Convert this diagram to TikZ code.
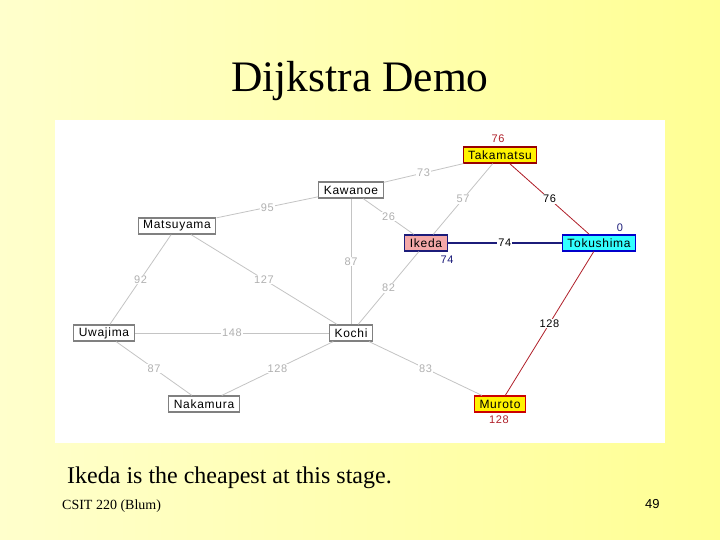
\documentclass[tikz,border=0pt]{standalone}
\usepackage{fontspec}
\setmainfont{Liberation Serif}
\newfontfamily\guifont[LetterSpace=6]{Liberation Sans}
\newfontfamily\pagefont{Liberation Sans}
\definecolor{slideleft}{HTML}{FFFFCC}
\definecolor{slideright}{HTML}{FFFF94}
\definecolor{wire}{HTML}{C4C4C4}
\definecolor{wiretext}{HTML}{B0B0B0}
\definecolor{pathred}{HTML}{B0202A}
\definecolor{pathblue}{HTML}{1C1C7A}
\definecolor{ikedapink}{HTML}{F4A8A8}
\definecolor{tokucyan}{HTML}{33FFFF}

\begin{document}
\begin{tikzpicture}[x = 1pt, y = -1pt,
  city/.style = {draw=gray, line width=1.2pt, fill=white, inner xsep=5pt,
    inner ysep=0pt, minimum height=16pt, font=\guifont\fontsize{12}{12}\selectfont},
  weight/.style = {fill=white, inner sep=1pt, text=wiretext,
    font=\guifont\fontsize{11}{11}\selectfont},
  dist/.style = {inner sep=0pt, font=\guifont\fontsize{11}{11}\selectfont}]

  % slide background
  \shade[left color=slideleft, right color=slideright] (0,0) rectangle (720,540);
  \useasboundingbox (0,0) rectangle (720,540);

  % title
  \node[anchor=base, inner sep=0pt, font=\fontsize{43.5}{50}\selectfont]
    (title) at (360,92) {Dijkstra Demo};

  % graph panel
  \fill[white] (55,120) rectangle (665,443);

  % cities
  \node[city, draw=red!60!black, fill=yellow] (takamatsu) at (500,155) {Takamatsu};
  \node[city] (kawanoe)   at (351,190) {Kawanoe};
  \node[city] (matsuyama) at (177,226) {Matsuyama};
  \node[city, draw=pathblue, fill=ikedapink] (ikeda) at (426,243) {Ikeda};
  \node[city, draw=blue!80!black, fill=tokucyan] (tokushima) at (599,243) {Tokushima};
  \node[city] (uwajima)   at (104,333) {Uwajima};
  \node[city] (kochi)     at (351,333) {Kochi};
  \node[city] (nakamura)  at (204,404) {Nakamura};
  \node[city, draw=red!80!black, fill=yellow] (muroto) at (500,404) {Muroto};

  % roads
  \foreach \a/\b/\w in {kawanoe/takamatsu/73, kawanoe/matsuyama/95,
    kawanoe/ikeda/26, kawanoe/kochi/87, takamatsu/ikeda/57, ikeda/kochi/82,
    matsuyama/uwajima/92, matsuyama/kochi/127, uwajima/kochi/148,
    uwajima/nakamura/87, nakamura/kochi/128, kochi/muroto/83}
  \draw[color=wire, line width=0.8pt] (\a) -- node[weight] {\w} (\b);

  % shortest path so far
  \draw[color=pathred, line width=0.8pt] (takamatsu) -- node[weight, text=black] {76} (tokushima);
  \draw[color=pathred, line width=0.8pt] (tokushima) -- node[weight, text=black] {128} (muroto);
  \draw[color=pathblue, line width=1.2pt] (ikeda) -- node[weight, text=black] {74} (tokushima);

  % distances
  \node[dist, text=pathred]  (dtakamatsu) at (498,139) {76};
  \node[dist, text=pathblue] (dtokushima) at (620,228) {0};
  \node[dist, text=pathblue] (dikeda)     at (447,260) {74};
  \node[dist, text=pathred]  (dmuroto)    at (499,420) {128};

  % footer
  \node[anchor=base west, inner sep=0pt, font=\fontsize{24}{28}\selectfont]
    (remark) at (67,483) {Ikeda is the cheapest at this stage.};
  \node[anchor=base west, inner sep=0pt, font=\fontsize{14}{16}\selectfont]
    (course) at (62,509) {CSIT 220 (Blum)};
  \node[anchor=base west, inner sep=0pt, font=\pagefont\fontsize{13}{15}\selectfont]
    (page) at (645,508) {49};

\end{tikzpicture}
\end{document}
